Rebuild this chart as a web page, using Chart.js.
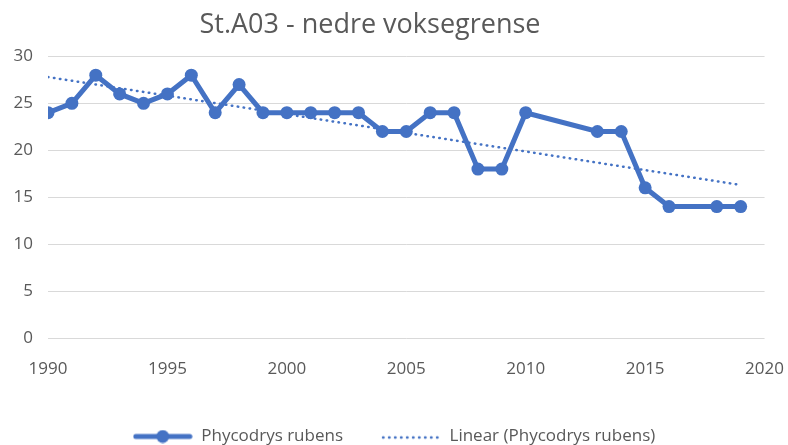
<!DOCTYPE html>
<html>
<head>
<meta charset="utf-8">
<script src="https://cdn.jsdelivr.net/npm/chart.js@4/dist/chart.umd.min.js"></script>
<style>
  html, body { margin: 0; padding: 0; background: #fff; }
  #wrap { width: 788px; height: 445px; position: relative; }
</style>
</head>
<body>
<div id="wrap"><canvas id="chart" width="788" height="445"></canvas></div>
<script>
  // Data
  const years = [1990, 1991, 1992, 1993, 1994, 1995, 1996, 1997, 1998, 1999, 2000, 2001, 2002, 2003, 2004, 2005, 2006, 2007, 2008, 2009, 2010, 2013, 2014, 2015, 2016, 2018, 2019];
  const depths = [24, 25, 28, 26, 25, 26, 28, 24, 27, 24, 24, 24, 24, 24, 22, 22, 24, 24, 18, 18, 24, 22, 22, 16, 14, 14, 14];
  const trendYears = [1990, 2019];
  const trendValues = [27.8, 16.3];
  const xTicks = [1990, 1995, 2000, 2005, 2010, 2015, 2020];
  const yTicks = [0, 5, 10, 15, 20, 25, 30];

  const blue = '#4472C4';
  const grey = '#595959';
  const fontFamily = "'Open Sans', 'Noto Sans', sans-serif";

  // legend icons
  function seriesIcon() {
    const c = document.createElement('canvas');
    c.width = 60; c.height = 14;
    const g = c.getContext('2d');
    g.strokeStyle = blue; g.lineWidth = 5; g.lineCap = 'round';
    g.beginPath(); g.moveTo(3, 7); g.lineTo(57, 7); g.stroke();
    g.fillStyle = blue;
    g.beginPath(); g.arc(30, 7, 6.5, 0, Math.PI * 2); g.fill();
    return c;
  }
  function trendIcon() {
    const c = document.createElement('canvas');
    c.width = 60; c.height = 14;
    const g = c.getContext('2d');
    g.strokeStyle = blue; g.lineWidth = 2.5; g.lineCap = 'round';
    g.setLineDash([0.5, 5.5]);
    g.beginPath(); g.moveTo(2, 8); g.lineTo(60, 8); g.stroke();
    return c;
  }
  const icons = [seriesIcon(), trendIcon()];

  // the reference title sits a little left of the canvas centre
  const titleShift = {
    id: 'titleShift',
    afterLayout(chart) {
      if (chart.titleBlock) chart.titleBlock.left -= 48;
    }
  };

  new Chart(document.getElementById('chart'), {
    type: 'line',
    plugins: [titleShift],
    data: {
      datasets: [{
        label: 'Phycodrys rubens',
        data: years.map((y, i) => ({ x: y, y: depths[i] })),
        borderColor: blue,
        backgroundColor: blue,
        borderWidth: 5,
        pointRadius: 6.5,
        pointBorderWidth: 0,
        pointBackgroundColor: blue,
        tension: 0
      }, {
        label: 'Linear (Phycodrys rubens)',
        data: trendYears.map((y, i) => ({ x: y, y: trendValues[i] })),
        borderColor: blue,
        borderWidth: 2.5,
        borderDash: [0.5, 5.5],
        borderCapStyle: 'round',
        pointRadius: 0,
        fill: false
      }]
    },
    options: {
      responsive: false,
      animation: false,
      devicePixelRatio: 1,
      // negative bottom padding pushes the roomy legend down to the edge
      layout: { padding: { left: 0, right: 0, top: 0, bottom: -10 } },
      plugins: {
        title: {
          display: true,
          text: 'St.A03 - nedre voksegrense',
          color: grey,
          font: { family: fontFamily, size: 27, weight: 'normal' },
          padding: { top: 9, bottom: 15 }
        },
        legend: {
          position: 'bottom',
          labels: {
            color: grey,
            font: { family: fontFamily, size: 17 },
            usePointStyle: true,
            pointStyleWidth: 60,
            padding: 38,
            generateLabels: function(chart) {
              return chart.data.datasets.map((ds, i) => ({
                text: ds.label,
                pointStyle: icons[i],
                fontColor: grey,
                datasetIndex: i,
                hidden: false,
                lineWidth: 0
              }));
            }
          }
        },
        tooltip: { enabled: false }
      },
      scales: {
        x: {
          type: 'linear',
          min: 1990,
          max: 2020,
          afterBuildTicks: function(axis) {
            axis.ticks = xTicks.map(v => ({ value: v }));
          },
          grid: { display: true, color: 'rgba(0,0,0,0)', drawOnChartArea: false, drawTicks: true, tickLength: 17 },
          border: { display: false },
          ticks: {
            color: grey,
            font: { family: fontFamily, size: 17 },
            padding: 4,
            maxRotation: 0,
            callback: v => String(v)
          },
          afterFit: function(axis) { axis.height = 52; }
        },
        y: {
          min: 0,
          max: 30,
          afterBuildTicks: function(axis) {
            axis.ticks = yTicks.map(v => ({ value: v }));
          },
          grid: { color: '#d9d9d9', lineWidth: 1, drawTicks: false },
          border: { display: false },
          ticks: {
            color: grey,
            font: { family: fontFamily, size: 17 },
            padding: 15
          },
          afterFit: function(axis) { axis.width = 48; }
        }
      }
    }
  });
</script>
</body>
</html>
